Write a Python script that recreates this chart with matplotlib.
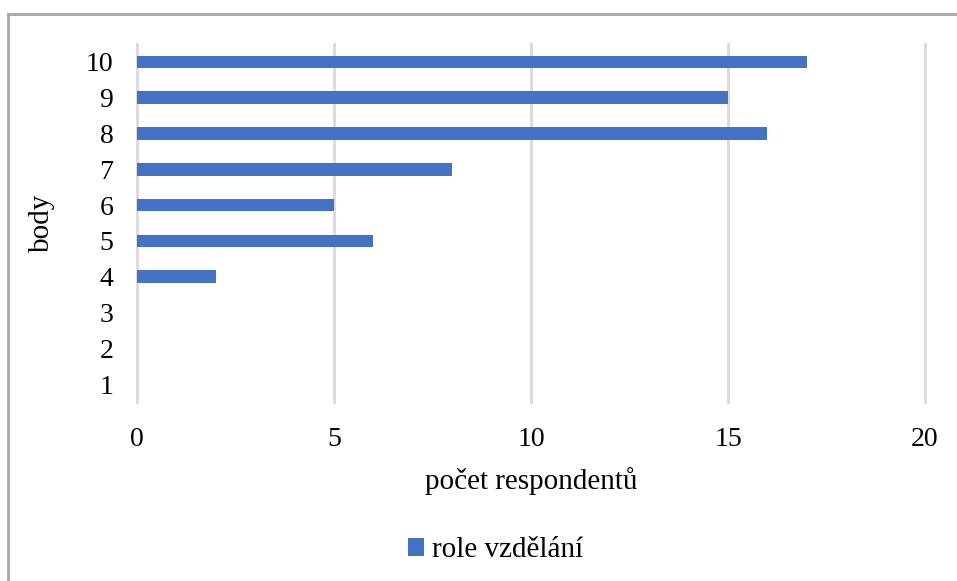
import matplotlib.pyplot as plt
from matplotlib.lines import Line2D

# data
categories = ['1', '2', '3', '4', '5', '6', '7', '8', '9', '10']
values = [0, 0, 0, 2, 6, 5, 8, 16, 15, 17]
series_name = 'role vzdělání'
x_ticks = [0, 5, 10, 15, 20]

plt.rcParams['font.family'] = ['Liberation Serif', 'DejaVu Serif']

fig = plt.figure(figsize=(9.57, 5.81), dpi=100)
ax = fig.add_axes([0.1432, 0.3081, 0.8234, 0.6162])

pos = list(range(1, len(categories) + 1))
ax.barh(pos, values, height=0.35, color='#4472C4', label=series_name, zorder=3)

ax.set_xlim(0, 20)
ax.set_ylim(0.5, 10.5)
ax.set_xticks(x_ticks)
ax.set_yticks(pos)
ax.set_yticklabels(categories)
ax.tick_params(length=0, labelsize=20, colors='#000000')
ax.tick_params(axis='x', pad=18)
ax.tick_params(axis='y', pad=17)
ax.grid(axis='x', color='#d9d9d9', linewidth=2, zorder=0)
for gl in ax.get_xgridlines():
    gl.set_clip_on(False)
for s in ax.spines.values():
    s.set_visible(False)

ax.set_xlabel('počet respondentů', fontsize=21, labelpad=11)
ax.set_ylabel('body', fontsize=21, labelpad=22)

fig.legend(loc='center', bbox_to_anchor=(0.518, 0.053), frameon=False,
           fontsize=21, handlelength=0.55, handleheight=0.55, handletextpad=0.3)

# outer chart border (only left and top visible in the crop)
fig.add_artist(Line2D([8 / 957, 8 / 957], [0, 1 - 14 / 581], transform=fig.transFigure,
                      color='#a6a6a6', linewidth=2))
fig.add_artist(Line2D([8 / 957, 1], [1 - 14 / 581, 1 - 14 / 581], transform=fig.transFigure,
                      color='#a6a6a6', linewidth=2))

fig.savefig('out.png', dpi=100)
